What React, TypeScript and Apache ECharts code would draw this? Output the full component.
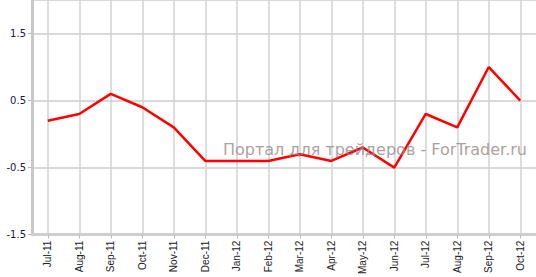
import React, { useEffect, useRef } from "react";
import * as echarts from "echarts";

const categories = ["Jul-11","Aug-11","Sep-11","Oct-11","Nov-11","Dec-11","Jan-12","Feb-12","Mar-12","Apr-12","May-12","Jun-12","Jul-12","Aug-12","Sep-12","Oct-12"];
const values = [0.2, 0.3, 0.6, 0.4, 0.1, -0.4, -0.4, -0.4, -0.3, -0.4, -0.2, -0.5, 0.3, 0.1, 1.0, 0.5];
const watermark = "Портал для трейдеров - ForTrader.ru";

export default function App() {
  const ref = useRef<HTMLDivElement>(null);
  useEffect(() => {
    if (!ref.current) return;
    const chart = echarts.init(ref.current, null, { renderer: "svg" });
    chart.setOption({
      animation: false,
      grid: { left: 32, right: -2, top: -3, bottom: 42 },
      xAxis: {
        type: "category",
        data: categories,
        boundaryGap: true,
        axisLine: { show: true, onZero: false, lineStyle: { color: "#cfcfcf", width: 3 } },
        axisTick: { show: true, alignWithLabel: true, length: 4, lineStyle: { color: "#bdbdbd" } },
        axisLabel: { rotate: 90, interval: 0, fontFamily: "Liberation Sans", fontSize: 10, color: "#222", margin: 6 },
        splitLine: { show: true, alignWithLabel: true, lineStyle: { color: "#d2d2d2", width: 1.5 } },
      },
      yAxis: {
        type: "value",
        min: -1.5,
        max: 2,
        interval: 1,
        axisLine: { show: true, lineStyle: { color: "#c8c8c8", width: 3 } },
        axisTick: { show: true, length: 4, lineStyle: { color: "#bdbdbd" } },
        axisLabel: { fontFamily: "DejaVu Sans", fontSize: 10, color: "#1a1a3a", margin: 6, showMaxLabel: false },
        splitLine: { show: true, lineStyle: { color: "#cccccc", width: 1.5 } },
      },
      graphic: [
        {
          type: "text",
          right: 9,
          top: 141,
          z: 100,
          style: { text: watermark, fontFamily: "DejaVu Sans", fontSize: 16, fill: "rgba(150,135,135,0.8)" },
        },
      ],
      series: [
        {
          type: "line",
          data: values,
          symbol: "none",
          lineStyle: { color: "#ff0000", width: 2.5 },
          z: 5,
        },
      ],
    });
    return () => chart.dispose();
  }, []);
  return <div ref={ref} style={{ width: 536, height: 277, position: "absolute", left: 0, top: 0 }} />;
}
